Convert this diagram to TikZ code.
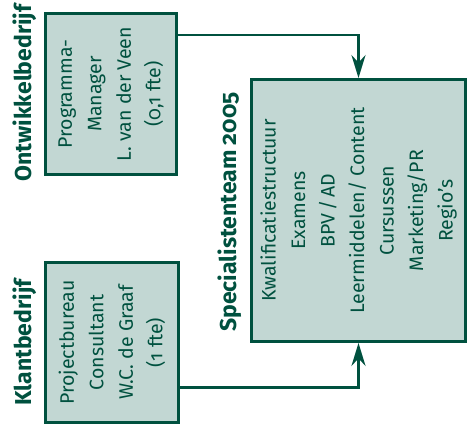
\documentclass[tikz,border=0pt]{standalone}
\usepackage{fontspec}
\setmainfont{Fira Sans}[Numbers=OldStyle]
\usetikzlibrary{arrows.meta}
\definecolor{darkgreen}{HTML}{00513F}
\definecolor{boxfill}{HTML}{C2D7D3}
\tikzstyle{unit}=[draw=darkgreen,fill=boxfill,line width=2.8pt,rotate=90,align=center,text=darkgreen,inner sep=0pt,font=\fontsize{19.5}{29.5}\selectfont]
\tikzstyle{group}=[rotate=90,text=darkgreen,inner sep=0pt,font=\fontsize{23}{26}\selectfont\bfseries]
\tikzstyle{feed}=[draw=darkgreen,line width=2.8pt,-{Stealth[length=23pt,width=14pt]}]

\begin{document}
\begin{tikzpicture}[x=1pt,y=1pt]
  \useasboundingbox (0,0) rectangle (472,434);
  \node[unit,minimum width=161pt,minimum height=131pt] (prog) at (111,340)
    {Programma-\\Manager\\L. van der Veen\\(0,1 fte)};
  \node[unit,minimum width=160pt,minimum height=133pt] (klant) at (112,91.5)
    {Projectbureau\\Consultant\\W.C. de Graaf\\(1 fte)};
  \node[unit,minimum width=262pt,minimum height=214pt] (spec) at (358.5,223.5)
    {Kwalificatiestructuur\\Examens\\BPV\,/\,AD\\Leermiddelen/ Content\\Cursussen\\Marketing/PR\\Regio’s};
  \node[group] (progname)  at (25,341)  {Ontwikkelbedrijf};
  \node[group] (klantname) at (25,91.5) {Klantbedrijf};
  \node[group] (specname)  at (230,222) {Specialistenteam 2005};

  \draw[feed] ([yshift=-23pt]prog.south east) -| (spec.east);
  \draw[feed] ([yshift=36pt]klant.south west) -| (spec.west);
\end{tikzpicture}
\end{document}
